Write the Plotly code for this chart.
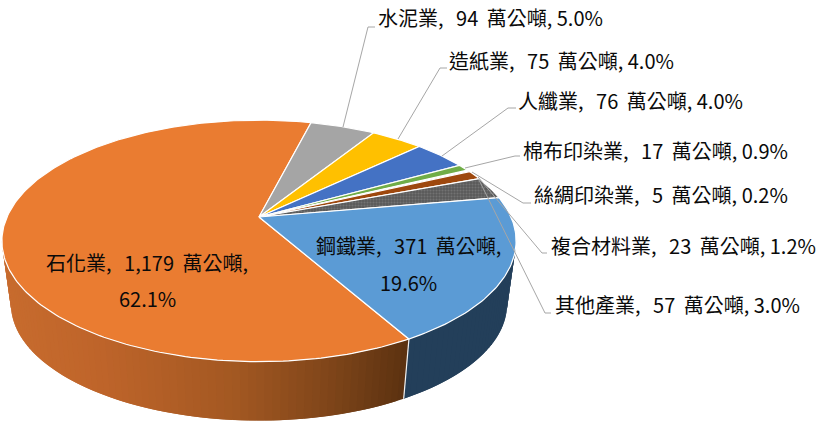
import math
import plotly.graph_objects as go

categories = ["石化業", "水泥業", "造紙業", "人纖業", "棉布印染業", "絲綢印染業", "複合材料業", "其他產業", "鋼鐵業"]
values = [1179, 94, 75, 76, 17, 5, 23, 57, 371]
percents = ["62.1%", "5.0%", "4.0%", "4.0%", "0.9%", "0.2%", "1.2%", "3.0%", "19.6%"]
top_colors = ["#EA7C31", "#A5A5A5", "#FFC000", "#4472C4", "#70AD47", "#255E91", "#9E480E", "#636363", "#5B9BD5"]

# pie geometry (perspective disc)
CX, Y0, A, B, P = 259.0, 217.0, 252.0, 116.0, 0.198
Y0_BOTTOM, SCALE_BOTTOM = 281.0, 0.965
START_DEG = 150.5
SIDE_FROM, SIDE_TO = 101.0, 258.6


def rim(deg, bottom=False):
    t = math.radians(deg)  # clockwise from top
    s, c = math.cos(t), math.sin(t)
    d = 1 + P * s
    x, y = A * c / d, -B * s / d
    if bottom:
        return CX + x * SCALE_BOTTOM, Y0_BOTTOM + y * SCALE_BOTTOM
    return CX + x, Y0 + y


def lerp_color(x):
    stops = [(0, (200, 108, 46)), (100, (190, 100, 42)), (230, (163, 88, 34)),
             (330, (125, 68, 25)), (405, (90, 49, 16))]
    for (x0, c0), (x1, c1) in zip(stops, stops[1:]):
        if x <= x1:
            f = max(0, (x - x0) / (x1 - x0))
            return "rgb(%d,%d,%d)" % tuple(round(a + (b - a) * f) for a, b in zip(c0, c1))
    return "rgb(90,49,16)"


fig = go.Figure()
total = sum(values)

# side wall, split into narrow strips for the shading
step = 1.5
d = SIDE_FROM
while d < SIDE_TO:
    e = min(d + step, SIDE_TO)
    # strips overlap the next one so no seams show
    e2 = min(e + step, SIDE_TO if e > START_DEG else START_DEG)
    pts = [rim(d), rim(e2), rim(e2, True), rim(d, True)]
    xs = [p[0] for p in pts] + [pts[0][0]]
    ys = [p[1] for p in pts] + [pts[0][1]]
    col = "#233f5a" if e <= START_DEG else lerp_color(sum(xs[:4]) / 4)
    fig.add_trace(go.Scatter(x=xs, y=ys, mode="lines", fill="toself", fillcolor=col,
                             line=dict(width=0), hoverinfo="skip", showlegend=False))
    d = e

# edge between the two visible side faces
a, b = rim(START_DEG), rim(START_DEG, True)
fig.add_trace(go.Scatter(x=[a[0], b[0]], y=[a[1], b[1]], mode="lines",
                         line=dict(color="#f2f2f2", width=1.2), hoverinfo="skip", showlegend=False))

# top face
ang = START_DEG
for name, v, col in zip(categories, values, top_colors):
    sweep = v / total * 360
    n = max(3, int(sweep))
    pts = [rim(ang + sweep * i / n) for i in range(n + 1)]
    xs = [CX] + [p[0] for p in pts] + [CX]
    ys = [Y0] + [p[1] for p in pts] + [Y0]
    kw = {}
    if name == "其他產業":
        kw["fillpattern"] = dict(shape=".", size=3, solidity=0.35, fgcolor="#8a8a8a", bgcolor="#5a5a5a")
    fig.add_trace(go.Scatter(x=xs, y=ys, mode="lines", fill="toself", fillcolor=col,
                             line=dict(color="#ffffff", width=1.2), hoverinfo="skip",
                             showlegend=False, name=name, **kw))
    ang += sweep

# leader lines
leaders = [
    ([343, 368, 375], [127, 27, 27]),
    ([398, 440, 447], [139, 68, 68]),
    ([442, 508, 516], [156, 108, 108]),
    ([465, 515, 520], [168, 156, 156]),
    ([472, 523, 531], [172, 203, 203]),
    ([478, 542, 547], [177, 253, 253]),
    ([479, 545, 551], [180, 313, 313]),
]
for lx, ly in leaders:
    fig.add_trace(go.Scatter(x=lx, y=ly, mode="lines", line=dict(color="#a6a6a6", width=1),
                             hoverinfo="skip", showlegend=False))


def label(i):
    return f"{categories[i]},\u00a0\u2009\u2009{values[i]:,}\u2009 萬公噸,"


FONT = dict(family="Noto Sans CJK TC", size=20, color="#0a0a0a")
outer = {1: (376, 17), 2: (447, 60), 3: (516, 100), 4: (521, 150), 5: (532, 194), 6: (549, 245), 7: (553, 304)}
ann = []
for i, (x, y) in outer.items():
    ann.append(dict(x=x, y=y, text=label(i) + " " + percents[i], xanchor="left", yanchor="middle",
                    showarrow=False, font=FONT, xref="x", yref="y"))
for i, x, y1, y2 in [(0, 147, 262, 298), (8, 408, 245, 282)]:
    ann.append(dict(x=x, y=y1, text=label(i), xanchor="center", yanchor="middle",
                    showarrow=False, font=FONT, xref="x", yref="y"))
    ann.append(dict(x=x, y=y2, text=percents[i], xanchor="center", yanchor="middle",
                    showarrow=False, font=FONT, xref="x", yref="y"))

fig.update_layout(
    width=826, height=427, margin=dict(l=0, r=0, t=0, b=0),
    paper_bgcolor="white", plot_bgcolor="white", showlegend=False, annotations=ann,
    xaxis=dict(range=[0, 826], visible=False, fixedrange=True),
    yaxis=dict(range=[427, 0], visible=False, fixedrange=True),
)
fig.write_html("out.html", config={"displayModeBar": False},
               post_script="document.body.style.margin='0';document.body.style.overflow='hidden';")
